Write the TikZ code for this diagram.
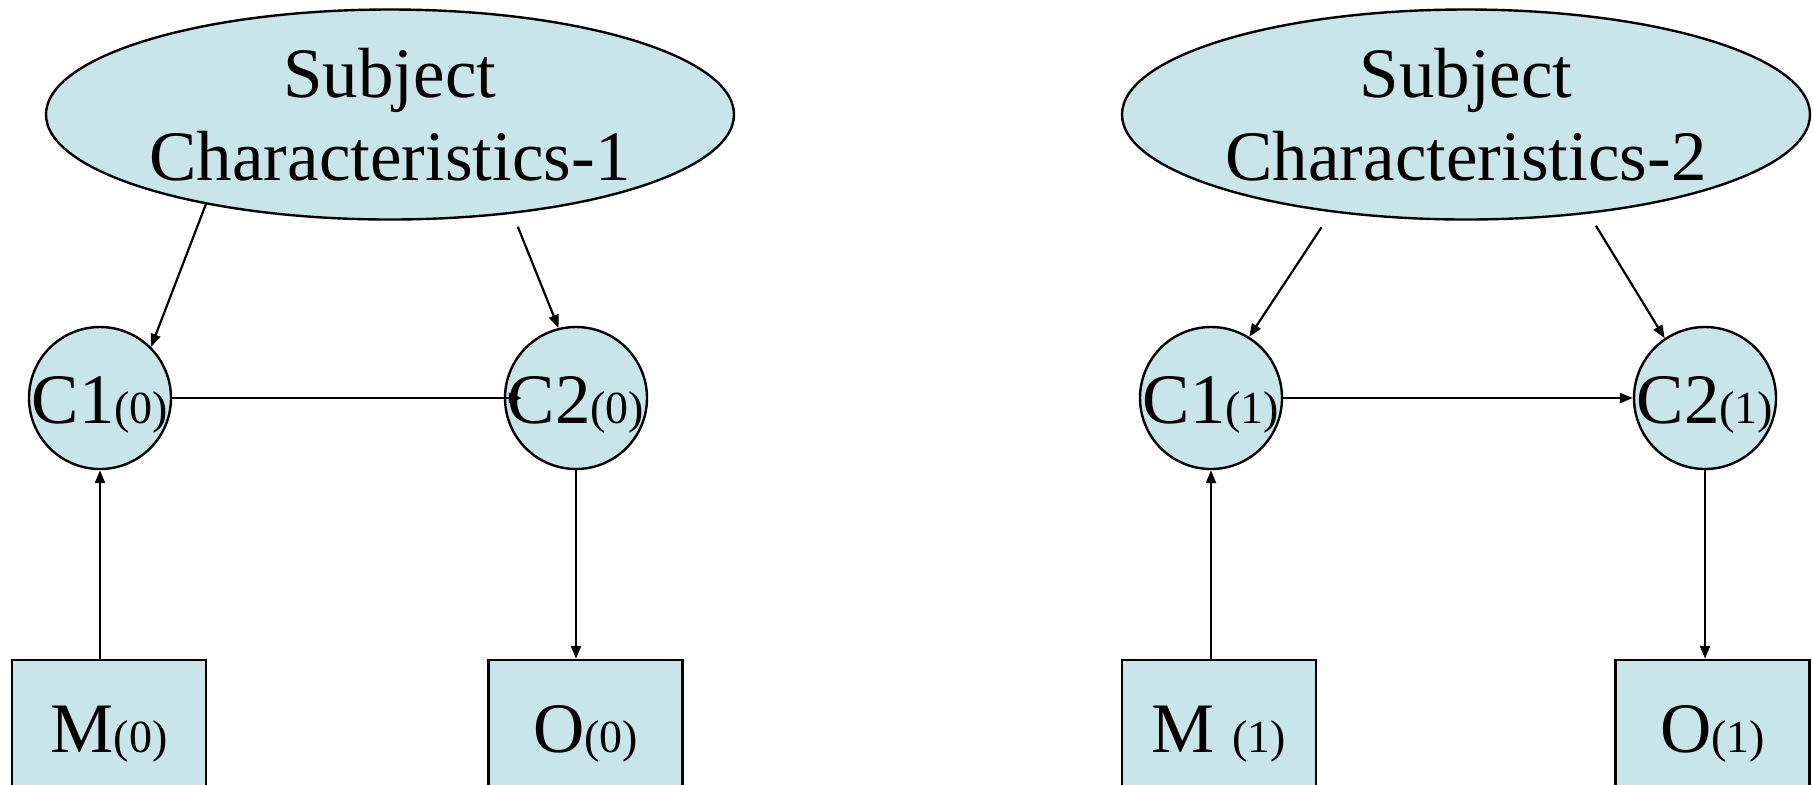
\documentclass[tikz,border=0pt]{standalone}
\usepackage{fontspec}
\setmainfont{Liberation Serif}
\usetikzlibrary{arrows.meta,shapes.geometric}
\definecolor{nodefill}{RGB}{200,230,234}
\newcommand{\sbs}[1]{{\fontsize{23}{23}\selectfont #1}}
\newcommand{\ctr}[2]{\makebox[0pt]{\raisebox{#1}[0pt][0pt]{#2}}}
\begin{document}
\begin{tikzpicture}[x=0.5pt,y=-0.5pt,
  every node/.style={font=\fontsize{35.5}{41.5}\selectfont},
  oval/.style={ellipse, draw=black, line width=1.2pt, fill=nodefill, minimum width=344pt, minimum height=105pt, inner sep=0pt, align=center},
  circ/.style={circle, draw=black, line width=1.2pt, fill=nodefill, minimum size=71pt, inner sep=0pt},
  sq/.style={rectangle, draw=black, line width=1.2pt, fill=nodefill, minimum width=97pt, minimum height=100pt, inner sep=0pt},
  conn/.style={-{Triangle[length=6.5pt,width=5pt]}, line width=1.1pt}]
\useasboundingbox (0,0) rectangle (1813,784);
\clip (0,0) rectangle (1813,784);
\node[oval] (s1) at (390,114.5) {Subject\\Characteristics-1};
\node[oval] (s2) at (1466,114.5) {Subject\\Characteristics-2};
\node[circ] (c10) at (100,398) {\ctr{-12.5pt}{C1\sbs{(0)}}};
\node[circ] (c20) at (576,398) {\ctr{-12.5pt}{C2\sbs{(0)}}};
\node[circ] (c11) at (1211,398) {\ctr{-12.5pt}{C1\sbs{(1)}}};
\node[circ] (c21) at (1705,398) {\ctr{-12.5pt}{C2\sbs{(1)}}};
\node[sq] (m0) at (109,760) {\ctr{4pt}{M\sbs{(0)}}};
\node[sq] (o0) at (585.5,760) {\ctr{4pt}{O\sbs{(0)}}};
\node[sq] (m1) at (1219,760) {\ctr{4pt}{M \sbs{(1)}}};
\node[sq] (o1) at (1712.5,760) {\ctr{4pt}{O\sbs{(1)}}};
\draw[conn] (s1.206) -- (c10.45);
\draw[conn, shorten <=7pt] (s1.321) -- (c20.104);
\draw[conn, shorten >=-9pt] (c10.east) -- (c20.west);
\draw[conn] (m0.north -| c10.south) -- (c10.south);
\draw[conn] (c20.south) -- (o0.north -| c20.south);
\draw[conn, shorten <=9pt] (s2.216) -- (c11.58);
\draw[conn, shorten <=7pt] (s2.321) -- (c21.124);
\draw[conn] (c11.east) -- (c21.west);
\draw[conn] (m1.north -| c11.south) -- (c11.south);
\draw[conn] (c21.south) -- (o1.north -| c21.south);
\end{tikzpicture}
\end{document}
